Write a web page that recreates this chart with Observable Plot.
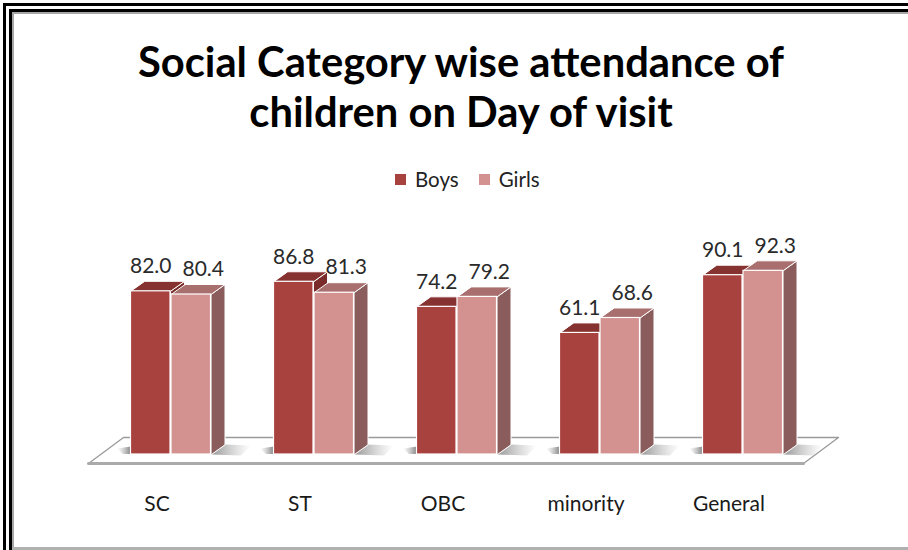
<!DOCTYPE html>
<html><head><meta charset="utf-8">
<script src="https://cdn.jsdelivr.net/npm/d3@7"></script>
<script src="https://cdn.jsdelivr.net/npm/@observablehq/plot@0.6"></script>
<style>
html,body{margin:0;padding:0;background:#fff;}
#wrap{position:relative;width:908px;height:550px;overflow:hidden;background:#fff;}
.ln{position:absolute;}
#title{position:absolute;left:14px;width:894px;top:36px;text-align:center;font-family:Lato,sans-serif;font-weight:700;color:#000;line-height:50px;white-space:nowrap;}
#legend{position:absolute;left:395px;top:167px;display:flex;align-items:center;font-family:Lato,sans-serif;font-size:20.5px;color:#222;}
.item{display:flex;align-items:center;margin-right:20px;}
.sw{width:11px;height:11px;display:inline-block;margin-right:9px;}
#chart{position:absolute;left:0;top:195px;}
</style></head><body>
<div id="wrap">
 <div class="ln" style="left:3px;top:3px;width:3px;height:547px;background:#000"></div>
 <div class="ln" style="left:3px;top:3px;width:905px;height:3px;background:#000"></div>
 <div class="ln" style="left:9px;top:9px;width:3px;height:541px;background:#000"></div>
 <div class="ln" style="left:9px;top:9px;width:899px;height:3px;background:#000"></div>
 <div class="ln" style="left:12px;top:12px;width:2px;height:538px;background:#a6a6a6"></div>
 <div class="ln" style="left:12px;top:12px;width:896px;height:2px;background:#a6a6a6"></div>
 <div class="ln" style="left:12px;top:547px;width:896px;height:3px;background:#b0b0b0"></div>
 <div id="title"></div>
 <div id="legend"></div>
 <div id="chart"></div>
</div>
<script>
// ---- data ----
const titleLines = ["Social Category wise attendance of", "children on Day of visit"];
const categories = ["SC", "ST", "OBC", "minority", "General"];
const series = ["Boys", "Girls"];
const boys = [82.0, 86.8, 74.2, 61.1, 90.1];
const girls = [80.4, 81.3, 79.2, 68.6, 92.3];

// ---- styles ----
const faceColors = {
  Boys: {front: "#A8423F", top: "#863230", side: "#7A2C2A"},
  Girls: {front: "#D39290", top: "#A86F6E", side: "#8A5C5B"}
};
const FONT = "Lato, sans-serif";

// title (fit first line to reference width)
(function () {
  const ctx = document.createElement("canvas").getContext("2d");
  ctx.font = "700 100px Lato";
  const w = ctx.measureText(titleLines[0]).width;
  const fs = 100 * 648 / w;
  const t = document.getElementById("title");
  t.style.fontSize = fs.toFixed(2) + "px";
  titleLines.forEach(s => { const d = document.createElement("div"); d.textContent = s; t.appendChild(d); });
})();

// legend
(function () {
  const lg = document.getElementById("legend");
  series.forEach(s => {
    const it = document.createElement("div"); it.className = "item";
    const sw = document.createElement("span"); sw.className = "sw"; sw.style.background = faceColors[s].front;
    const tx = document.createElement("span"); tx.textContent = s;
    it.appendChild(sw); it.appendChild(tx); lg.appendChild(it);
  });
})();

// ---- geometry helpers (pixel sizes converted to data units) ----
const W = 908, H = 355, mL = 99, mR = 94, mT = 60, mB = 96;
const PX = 5 / (W - mL - mR);      // x units per pixel
const PY = 100 / (H - mT - mB);    // y units per pixel
const BW = 39.5, GAP = 0.5, DX = 14, DY = 10;

const rows = [];
categories.forEach((c, i) => {
  rows.push({cat: c, i, s: "Boys", v: boys[i]});
  rows.push({cat: c, i, s: "Girls", v: girls[i]});
});
rows.forEach(d => {
  d.x1 = d.s === "Boys" ? d.i - (BW + GAP) * PX : d.i + GAP * PX;
  d.x2 = d.s === "Boys" ? d.i - GAP * PX : d.i + (BW + GAP) * PX;
});

function polys(sel, face) {
  const pts = [];
  rows.filter(d => d.s === sel).forEach((d, k) => {
    const id = sel + k;
    const ox = DX * PX, oy = DY * PY;
    let p;
    if (face === "top") p = [[d.x1, d.v], [d.x2, d.v], [d.x2 + ox, d.v + oy], [d.x1 + ox, d.v + oy]];
    else if (face === "side") p = [[d.x2, 0], [d.x2, d.v], [d.x2 + ox, d.v + oy], [d.x2 + ox, oy]];
    else if (face === "shR") p = [[d.x2, 0], [d.x2 + ox, oy], [d.x2 + ox + 26 * PX, oy - 1 * PY], [d.x2 + 30 * PX, -1 * PY]];
    else if (face === "shL") p = [[d.x1, 0.5 * PY], [d.x1, 8 * PY], [d.x1 - 14 * PX, 6 * PY], [d.x1 - 8 * PX, 0.5 * PY]];
    p.forEach(([x, y]) => pts.push({id, x, y}));
  });
  return pts;
}

// floor (3D base plane)
const floor = [
  {x: -0.5 - 11 * PX, y: -9 * PY},
  {x: 4.5 - 11 * PX, y: -9 * PY},
  {x: 4.5 + 24 * PX, y: 17 * PY},
  {x: -0.5 + 24 * PX, y: 17 * PY}
];

function faceMarks(s) {
  const c = faceColors[s];
  return [
    Plot.line(polys(s, "side"), {x: "x", y: "y", z: "id", curve: "linear-closed", fill: c.side, stroke: "white", strokeWidth: 1}),
    Plot.line(polys(s, "top"), {x: "x", y: "y", z: "id", curve: "linear-closed", fill: c.top, stroke: "white", strokeWidth: 1}),
    Plot.rect(rows.filter(d => d.s === s), {x1: "x1", x2: "x2", y1: 0, y2: "v", fill: c.front, stroke: "white", strokeWidth: 1.2})
  ];
}

const chart = Plot.plot({
  width: W, height: H,
  marginLeft: mL, marginRight: mR, marginTop: mT, marginBottom: mB,
  x: {type: "linear", domain: [-0.5, 4.5], axis: null},
  y: {domain: [0, 100], axis: null},
  style: {fontFamily: FONT, background: "transparent", overflow: "visible"},
  marks: [
    Plot.line(floor, {x: "x", y: "y", curve: "linear-closed", fill: "white", stroke: "#9a9a9a", strokeWidth: 1.3}),
    Plot.line(floor.slice(0, 2), {x: "x", y: "y", stroke: "#aaaaaa", strokeWidth: 3}),
    Plot.line(polys("Girls", "shR"), {x: "x", y: "y", z: "id", curve: "linear-closed", fill: "url(#gR)", stroke: "none"}),
    Plot.line(polys("Boys", "shL"), {x: "x", y: "y", z: "id", curve: "linear-closed", fill: "url(#gL)", stroke: "none"}),
    ...faceMarks("Boys"),
    ...faceMarks("Girls"),
    Plot.text(rows, {
      x: d => (d.x1 + d.x2) / 2 + (d.s === "Girls" ? 12 * PX : 0),
      y: "v", text: d => d.v.toFixed(1), dy: -25,
      fontSize: 21, fill: "#2a2a2a"
    }),
    Plot.axisX({
      ticks: d3.range(categories.length), tickFormat: i => categories[i],
      tickSize: 0, tickPadding: 42, dx: -14, fontSize: 21, fill: "#1a1a1a"
    })
  ]
});
document.getElementById("chart").appendChild(chart);

// gradients for soft floor shadows
const svg = d3.select(chart);
const defs = svg.insert("defs", ":first-child");
const gR = defs.append("linearGradient").attr("id", "gR").attr("x1", 0).attr("x2", 1).attr("y1", 0).attr("y2", 0);
gR.append("stop").attr("offset", 0).attr("stop-color", "#666").attr("stop-opacity", 0.7);
gR.append("stop").attr("offset", 1).attr("stop-color", "#999").attr("stop-opacity", 0);
const gL = defs.append("linearGradient").attr("id", "gL").attr("x1", 1).attr("x2", 0).attr("y1", 0).attr("y2", 0);
gL.append("stop").attr("offset", 0).attr("stop-color", "#555").attr("stop-opacity", 0.75);
gL.append("stop").attr("offset", 1).attr("stop-color", "#999").attr("stop-opacity", 0);
</script>
</body></html>
